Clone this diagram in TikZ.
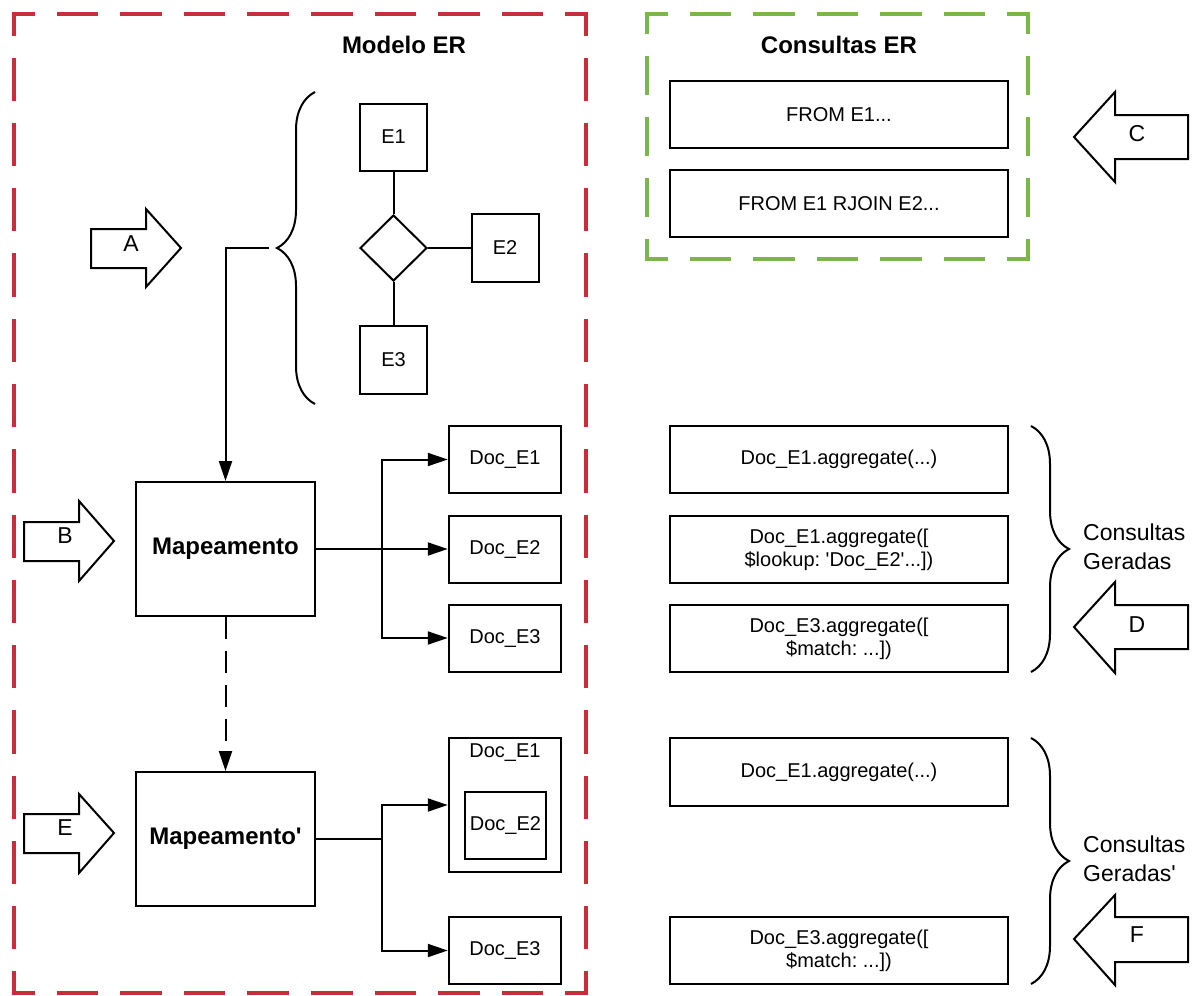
\documentclass[tikz,border=0pt]{standalone}
\usepackage{fontspec}
\setmainfont{Liberation Sans}
\usetikzlibrary{arrows.meta,decorations.pathreplacing,shapes.geometric}
\definecolor{frameRed}{HTML}{C92D39}
\definecolor{frameGreen}{HTML}{7AB648}
\frenchspacing
\tikzset{
  plainbox/.style={draw, line width=2pt, rectangle, inner sep=0pt, align=center,
    font=\fontsize{20}{23}\selectfont},
  boldbox/.style={plainbox, font=\bfseries\fontsize{24}{28}\selectfont},
  link/.style={line width=2pt},
  conn/.style={link, -{Triangle[length=20pt,width=13pt]}},
  blockarrow/.style={draw, line width=2pt, line join=miter},
  arrowlabel/.style={inner sep=0pt, font=\fontsize{23}{27}\selectfont},
  heading/.style={inner sep=0pt, font=\bfseries\fontsize{24}{28}\selectfont},
  sidenote/.style={inner sep=0pt, anchor=west, align=left, font=\fontsize{23}{29}\selectfont},
  curly/.style={decorate, decoration={brace, amplitude=38pt}, line width=2pt},
  framered/.style={draw=frameRed, line width=4pt, line cap=rect},
  framegreen/.style={draw=frameGreen, line width=4pt, line cap=rect},
}
\begin{document}
\begin{tikzpicture}[x=1pt, y=-1pt]
\useasboundingbox (0,0) rectangle (1197,996);

% ---- dashed frames (each side dashed symmetrically) ----
\draw[framered, dash pattern=on 37.56pt off 26pt, dash phase=18.78pt] (14,14) -- (586,14);
\draw[framered, dash pattern=on 37.56pt off 26pt, dash phase=18.78pt] (14,993) -- (586,993);
\draw[framered, dash pattern=on 39.27pt off 26pt, dash phase=19.63pt] (14,14) -- (14,993);
\draw[framered, dash pattern=on 39.27pt off 26pt, dash phase=19.63pt] (586,14) -- (586,993);

\draw[framegreen, dash pattern=on 37.5pt off 26pt, dash phase=18.75pt] (647,14) -- (1028,14);
\draw[framegreen, dash pattern=on 37.5pt off 26pt, dash phase=18.75pt] (647,259) -- (1028,259);
\draw[framegreen, dash pattern=on 35.25pt off 26pt, dash phase=17.63pt] (647,14) -- (647,259);
\draw[framegreen, dash pattern=on 35.25pt off 26pt, dash phase=17.63pt] (1028,14) -- (1028,259);

\node[heading] (titleER) at (404,45) {Modelo ER};
\node[heading] (titleQ) at (839,45) {Consultas ER};

% ---- ER model ----
\node[plainbox, minimum width=67, minimum height=67] (e1) at (393.5,137) {E1};
\node[draw, diamond, line width=2pt, inner sep=0pt, minimum width=67, minimum height=66] (rel) at (393.5,248) {};
\node[plainbox, minimum width=67, minimum height=68] (e2) at (505,248) {E2};
\node[plainbox, minimum width=67, minimum height=68] (e3) at (393.5,360) {E3};
\draw[link] (e1) -- (rel);
\draw[link] (rel) -- (e2);
\draw[link] (rel) -- (e3);
\draw[curly] (315,404) -- (315,92);
\coordinate (braceTip) at (269,248);

% ---- first mapping ----
\node[boldbox, minimum width=179, minimum height=134] (map) at (225.5,549) {Mapeamento};
\node[plainbox, minimum width=112.5, minimum height=67] (d1) at (505,459.5) {Doc\_E1};
\node[plainbox, minimum width=112.5, minimum height=67] (d2) at (505,549) {Doc\_E2};
\node[plainbox, minimum width=112.5, minimum height=67] (d3) at (505,638) {Doc\_E3};
\draw[conn] (braceTip) -| (map.north);
\coordinate (j1) at (382,549);
\draw[conn] (map.east) -- (d2.west);
\draw[conn] (j1) |- (d1.west);
\draw[conn] (j1) |- (d3.west);

% ---- second mapping ----
\node[boldbox, minimum width=179, minimum height=134] (map2) at (225.5,839) {Mapeamento\textquotesingle};
\draw[conn, dash pattern=on 22pt off 12pt] (map.south) -- (map2.north);
\node[plainbox, minimum width=112.5, minimum height=134] (d1b) at (505,805) {};
\node[inner sep=0pt, font=\fontsize{20}{23}\selectfont] (d1bl) at (505,753) {Doc\_E1};
\node[plainbox, minimum width=81, minimum height=67] (d2b) at (505.5,825.5) {Doc\_E2};
\node[plainbox, minimum width=112.5, minimum height=67] (d3b) at (505,950.5) {Doc\_E3};
\coordinate (j2) at (382,839);
\draw[link] (map2.east) -- (j2);
\draw[conn] (j2) |- (d1b.west);
\draw[conn] (j2) |- (d3b.west);

% ---- queries ----
\node[plainbox, minimum width=338, minimum height=67] (q1) at (839,114.5) {FROM E1...};
\node[plainbox, minimum width=338, minimum height=67] (q2) at (839,203.5) {FROM E1 RJOIN E2...};

\node[plainbox, minimum width=338, minimum height=67] (g1) at (839,459.5) {Doc\_E1.aggregate(...)};
\node[plainbox, minimum width=338, minimum height=67] (g2) at (839,549.5) {Doc\_E1.aggregate([\\\$lookup: \textquotesingle Doc\_E2\textquotesingle...])};
\node[plainbox, minimum width=338, minimum height=67] (g3) at (839,638.5) {Doc\_E3.aggregate([\\\$match: ...])};
\draw[curly] (1031,426) -- (1031,672);
\node[sidenote] (gen1) at (1083,546.5) {Consultas\\Geradas};

\node[plainbox, minimum width=338, minimum height=68] (h1) at (839,772) {Doc\_E1.aggregate(...)};
\node[plainbox, minimum width=338, minimum height=67] (h3) at (839,950.5) {Doc\_E3.aggregate([\\\$match: ...])};
\draw[curly] (1031,738) -- (1031,984);
\node[sidenote] (gen2) at (1083,858.5) {Consultas\\Geradas\textquotesingle};

% ---- block arrows ----
\draw[blockarrow] (91,229) -- (146,229) -- (146,209) -- (181,248) -- (146,287) -- (146,268) -- (91,268) -- cycle;
\node[arrowlabel] (labA) at (131,244) {A};
\draw[blockarrow] (24,522) -- (79,522) -- (79,501) -- (114,541) -- (79,581) -- (79,561) -- (24,561) -- cycle;
\node[arrowlabel] (labB) at (65,536) {B};
\draw[blockarrow] (24,814) -- (79,814) -- (79,794) -- (114,833) -- (79,873) -- (79,853) -- (24,853) -- cycle;
\node[arrowlabel] (labE) at (65,828) {E};
\draw[blockarrow] (1188,115) -- (1115,115) -- (1115,92) -- (1074,137) -- (1115,182) -- (1115,159) -- (1188,159) -- cycle;
\node[arrowlabel] (labC) at (1137,134) {C};
\draw[blockarrow] (1188,605) -- (1115,605) -- (1115,582) -- (1074,627) -- (1115,673) -- (1115,649) -- (1188,649) -- cycle;
\node[arrowlabel] (labD) at (1137,625) {D};
\draw[blockarrow] (1188,917) -- (1115,917) -- (1115,895) -- (1074,939) -- (1115,985) -- (1115,962) -- (1188,962) -- cycle;
\node[arrowlabel] (labF) at (1137,935) {F};
\end{tikzpicture}
\end{document}
